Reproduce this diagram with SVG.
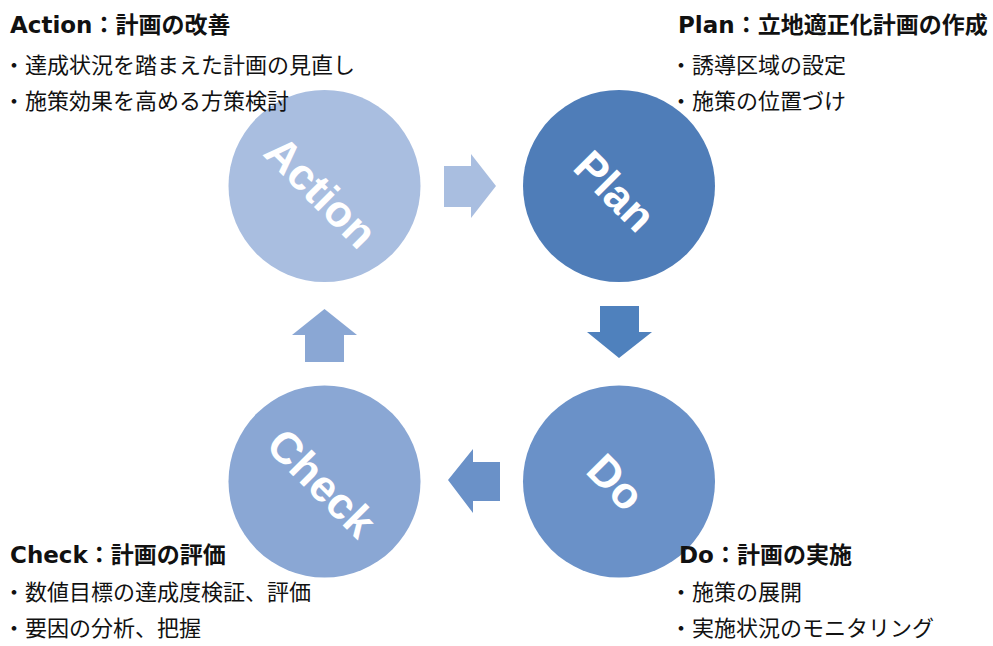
<svg xmlns="http://www.w3.org/2000/svg" width="993" height="646" viewBox="0 0 993 646">
<style>
.title{font-family:"DejaVu Sans","Noto Sans CJK JP",sans-serif;font-weight:bold;font-size:23px;fill:#111;}
.title .j{font-family:"Noto Sans CJK JP",sans-serif;}
.body{font-family:"Noto Sans CJK JP",sans-serif;font-size:22px;fill:#111;}
.big{font-family:"Liberation Sans",Arial,sans-serif;font-weight:bold;font-size:44px;fill:#fff;text-anchor:middle;dominant-baseline:central;}
</style>
<rect width="993" height="646" fill="#fff"/>
<g id="connectors">
<polygon points="444,166 471,166 471,154 496,186 471,218 471,207 444,207" fill="#a9bee0"/>
<polygon points="600,306 639,306 639,332 652,332 619,358 587,332 600,332" fill="#4f81bd"/>
<polygon points="500,462 473,462 473,449 448,480 473,513 473,501 500,501" fill="#6a91c8"/>
<polygon points="305,362 344,362 344,335 357,335 324.5,309 292,335 305,335" fill="#8aa7d4"/>
</g>
<g id="action">
<circle cx="324.5" cy="186" r="96" fill="#a9bee0"/>
<text class="big" transform="rotate(45 321 192)" x="321" y="192">Action</text>
<text class="title" x="10" y="33">Action<tspan class="j">：計画の改善</tspan></text>
<text class="body" x="3" y="73">・達成状況を踏まえた計画の見直し</text>
<text class="body" x="3" y="109">・施策効果を高める方策検討</text>
</g>
<g id="plan">
<circle cx="619" cy="186" r="96" fill="#4f7db8"/>
<text class="big" transform="rotate(45 615 191)" x="615" y="191">Plan</text>
<text class="title" x="678" y="33">Plan<tspan class="j">：立地適正化計画の作成</tspan></text>
<text class="body" x="670" y="73">・誘導区域の設定</text>
<text class="body" x="670" y="109">・施策の位置づけ</text>
</g>
<g id="do">
<circle cx="619" cy="481.5" r="96" fill="#6a91c8"/>
<text class="big" transform="rotate(45 616 482)" x="616" y="482">Do</text>
<text class="title" x="679" y="563">Do<tspan class="j">：計画の実施</tspan></text>
<text class="body" x="670" y="600">・施策の展開</text>
<text class="body" x="670" y="636">・実施状況のモニタリング</text>
</g>
<g id="check">
<circle cx="324.5" cy="481.5" r="96" fill="#8aa7d4"/>
<text class="big" transform="rotate(45 322 483)" x="322" y="483">Check</text>
<text class="title" x="10" y="563">Check<tspan class="j">：計画の評価</tspan></text>
<text class="body" x="3" y="600">・数値目標の達成度検証、評価</text>
<text class="body" x="3" y="636">・要因の分析、把握</text>
</g>
</svg>
